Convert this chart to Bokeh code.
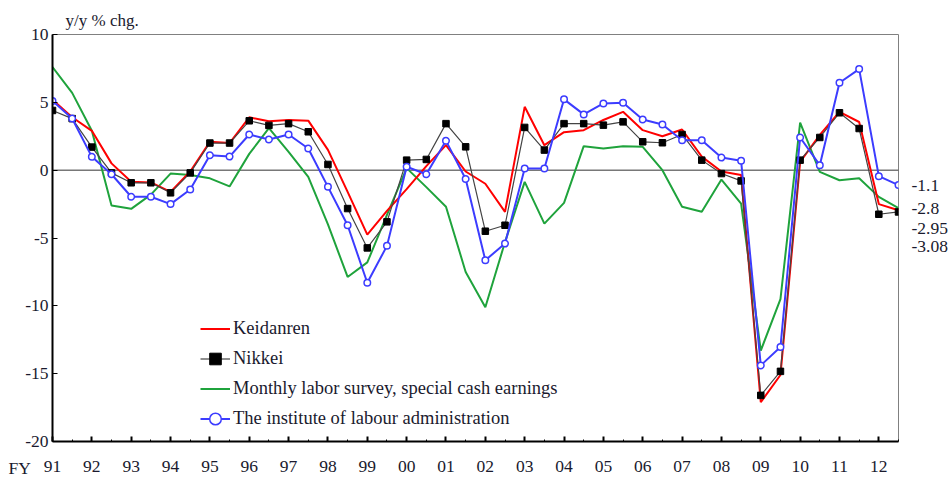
from bokeh.plotting import figure
from bokeh.models import FixedTicker, Span, Label, LinearAxis
from bokeh.embed import file_html
from bokeh.resources import INLINE

# Fiscal-year tick labels (one per year); data are half-yearly (H1, H2)
years = ["91", "92", "93", "94", "95", "96", "97", "98", "99", "00", "01",
         "02", "03", "04", "05", "06", "07", "08", "09", "10", "11", "12"]
halves = ["H1", "H2"]

keidanren = [5.2, 3.9, 2.9, 0.5, -0.85, -0.9, -1.6, -0.1, 2.1, 2.0, 3.9,
             3.6, 3.7, 3.65, 1.5, -1.6, -4.75, -3.0, -1.4, 0.3, 1.85, -0.1,
             -1.0, -3.07, 4.67, 1.84, 2.8, 2.95, 3.7, 4.3, 2.95, 2.5,
             3.0, 1.0, -0.1, -0.35, -17.1, -15.1, 0.6, 2.6, 4.3, 3.55,
             -2.5, -2.95]
nikkei = [4.4, 3.8, 1.7, -0.2, -0.93, -0.93, -1.67, -0.2, 2.0, 2.0, 3.64,
          3.3, 3.43, 2.83, 0.42, -2.83, -5.73, -3.81, 0.74, 0.79, 3.43, 1.72,
          -4.5, -4.06, 3.15, 1.48, 3.43, 3.43, 3.32, 3.56, 2.09, 2.02,
          2.63, 0.74, -0.25, -0.79, -16.6, -14.83, 0.74, 2.41, 4.23, 3.07,
          -3.25, -3.08]
monthly = [7.6, 5.7, 2.9, -2.6, -2.85, -1.8, -0.25, -0.35, -0.6, -1.2, 1.2,
           3.1, 1.35, -0.5, -4.0, -7.87, -6.8, -3.3, 0.15, -1.25, -2.7, -7.5,
           -10.1, -5.3, -0.86, -3.94, -2.41, 1.77, 1.6, 1.77, 1.72, 0.0,
           -2.7, -3.07, -0.69, -2.46, -13.3, -9.5, 3.5, -0.12, -0.74, -0.6,
           -1.97, -2.8]
institute = [5.1, 3.81, 0.98, -0.3, -1.96, -1.96, -2.5, -1.43, 1.1, 1.0, 2.63,
             2.26, 2.63, 1.6, -1.23, -4.06, -8.3, -5.58, 0.25, -0.3, 2.16, -0.65,
             -6.64, -5.41, 0.12, 0.12, 5.22, 4.11, 4.92, 4.97, 3.74, 3.37,
             2.21, 2.21, 0.93, 0.69, -14.39, -13.04, 2.41, 0.37, 6.44, 7.45,
             -0.44, -1.1]
end_labels = ["-1.1", "-2.8", "-2.95", "-3.08"]
y_ticks = [-20, -15, -10, -5, 0, 5, 10]
y_tick_labels = ["-20", "-15", "-10", "-5", "0", "5", "10"]

# position of each half-year period on the axis (year index + 0 / 0.5)
periods = [(yi, h) for yi in range(len(years)) for h in range(len(halves))]
x = [yi + 0.5 * h for yi, h in periods]

FONT = "Liberation Serif"
TXT = "#1a1a2e"
W, H = 950, 479
BL, BR, BT, BB = 52, 50, 34, 38

p = figure(width=W, height=H, x_range=(0, 21.5), y_range=(-20, 10),
           output_backend="svg", toolbar_location=None,
           min_border_left=BL, min_border_right=BR, min_border_top=BT,
           min_border_bottom=BB, background_fill_color="white")
p.grid.visible = False
p.outline_line_color = "#808080"
p.outline_line_width = 1

p.title.text = "y/y % chg."
p.title.align = "left"
p.title.offset = 13
p.title.standoff = 9
p.title.text_font = FONT
p.title.text_font_size = "17px"
p.title.text_font_style = "normal"
p.title.text_color = TXT

p.xaxis.ticker = FixedTicker(ticks=list(range(len(years))),
                             minor_ticks=[i + 0.5 for i in range(len(years))])
p.xaxis.major_label_overrides = {i: s for i, s in enumerate(years)}
p.yaxis.ticker = FixedTicker(ticks=y_ticks, minor_ticks=[])
p.yaxis.major_label_overrides = dict(zip(y_ticks, y_tick_labels))
for ax in (p.xaxis[0], p.yaxis[0]):
    ax.axis_line_color = "black"
    ax.axis_line_width = 2
    ax.major_tick_in = 5
    ax.major_tick_out = 0
    ax.minor_tick_in = 2
    ax.minor_tick_out = 0
    ax.major_tick_line_color = "black"
    ax.minor_tick_line_color = "black"
    ax.major_label_text_font = FONT
    ax.major_label_text_font_size = "17.5px"
    ax.major_label_text_color = TXT
p.xaxis.major_tick_line_width = 2
p.xaxis.major_label_standoff = 19
p.yaxis.major_label_standoff = 4

zero = Span(location=0, dimension="width", line_color="#333333",
            line_width=1, level="underlay")
p.add_layout(zero)

p.line(x, monthly, line_color="#1fa33c", line_width=2,
       legend_label="Monthly labor survey, special cash earnings")
p.line(x, keidanren, line_color="#ff0000", line_width=2,
       legend_label="Keidanren")
p.line(x, nikkei, line_color="#444444", line_width=1.2, legend_label="Nikkei")
p.scatter(x, nikkei, marker="square", size=6.5, fill_color="black",
          line_color="black", legend_label="Nikkei")
p.line(x, institute, line_color="#3c3cff", line_width=2,
       legend_label="The institute of labour administration")
p.scatter(x, institute, marker="circle", size=6.5, fill_color="white",
          line_color="#3c3cff", line_width=1.5,
          legend_label="The institute of labour administration")

# reorder legend items as in the reference
leg = p.legend[0]
order = ["Keidanren", "Nikkei", "Monthly labor survey, special cash earnings",
         "The institute of labour administration"]
items = {it.label.value: it for it in leg.items}
leg.items = [items[k] for k in order]
leg.location = (148, 8)
leg.padding = 0
leg.margin = 0
leg.spacing = 1
leg.glyph_width = 30
leg.glyph_height = 29
leg.label_height = 29
leg.label_standoff = 3
leg.label_text_font = FONT
leg.label_text_font_size = "18.5px"
leg.label_text_color = TXT
leg.background_fill_alpha = 0
leg.border_line_alpha = 0

# end-of-series value labels, stacked to the right of the frame
px_per_unit = (H - BT - BB) / 30.0
last_vals = [institute[-1], monthly[-1], keidanren[-1], nikkei[-1]]
stack_px = [0, 0, 18, 34]
end_pos = [round(v - s / px_per_unit, 2) for v, s in zip(last_vals, stack_px)]
end_axis = LinearAxis(ticker=FixedTicker(ticks=end_pos, minor_ticks=[]),
                      major_label_overrides=dict(zip(end_pos, end_labels)),
                      axis_line_color=None, major_tick_in=0, major_tick_out=0,
                      minor_tick_in=0, minor_tick_out=0,
                      major_label_standoff=13,
                      major_label_text_font=FONT,
                      major_label_text_font_size="17.5px",
                      major_label_text_color=TXT)
p.add_layout(end_axis, "right")

# FY marker left of the first year label (in the left side panel)
p.add_layout(Label(x=8, y=-26, x_units="screen", y_units="screen", text="FY",
                   text_font=FONT, text_font_size="17.5px", text_color=TXT,
                   text_baseline="middle", text_align="left"), "left")

open("out.html", "w").write(file_html(p, INLINE))
